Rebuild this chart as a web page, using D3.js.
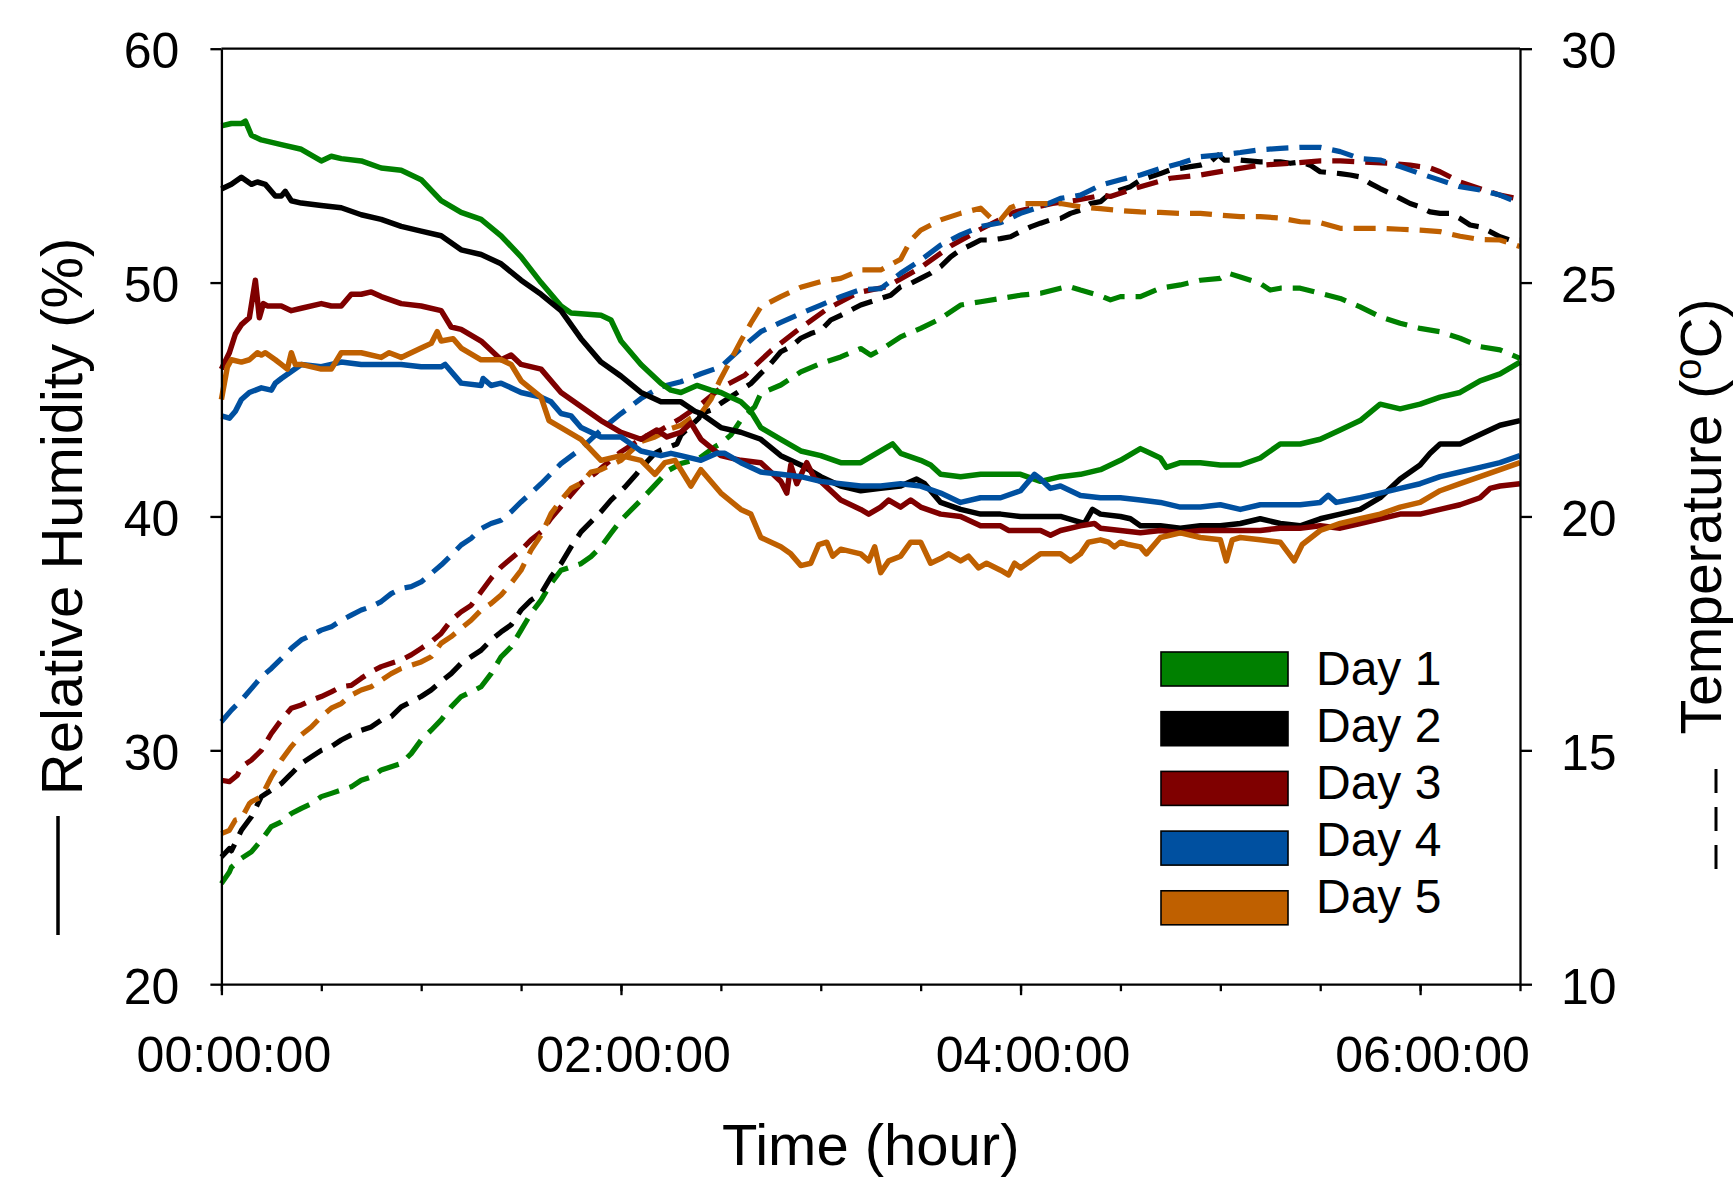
<!DOCTYPE html>
<html>
<head>
<meta charset="utf-8">
<script src="https://cdn.jsdelivr.net/npm/d3@7"></script>
<style>
  html, body { margin: 0; padding: 0; background: #fff; }
  svg { display: block; }
  text { font-family: "Liberation Sans", Arial, sans-serif; fill: #000; }
</style>
</head>
<body>
<script>
// ---------------- DATA ----------------
const days = ["Day 1", "Day 2", "Day 3", "Day 4", "Day 5"];
const dayColors = ["#008000", "#000000", "#7f0000", "#0050a0", "#bf6000"];
const xTickValues = [0, 2, 4, 6];
const xTickLabels = ["00:00:00", "02:00:00", "04:00:00", "06:00:00"];
const rhTicks = [20, 30, 40, 50, 60];
const tTicks = [10, 15, 20, 25, 30];

// Relative humidity (%) : [hour, value]
const rhDay1 = [[0,56.7],[0.05,56.8],[0.1,56.8],[0.12,56.9],[0.15,56.3],[0.2,56.1],[0.3,55.9],[0.4,55.7],[0.5,55.2],[0.55,55.4],[0.6,55.3],[0.7,55.2],[0.8,54.9],[0.9,54.8],[1.0,54.4],[1.1,53.5],[1.2,53.0],[1.3,52.7],[1.4,52.0],[1.5,51.1],[1.6,50.0],[1.7,49.0],[1.75,48.7],[1.9,48.6],[1.95,48.4],[2.0,47.5],[2.1,46.5],[2.2,45.7],[2.25,45.4],[2.3,45.3],[2.38,45.6],[2.45,45.4],[2.5,45.3],[2.55,45.1],[2.6,44.9],[2.65,44.5],[2.7,43.8],[2.8,43.3],[2.9,42.8],[3.0,42.6],[3.1,42.3],[3.2,42.3],[3.3,42.8],[3.36,43.1],[3.4,42.7],[3.5,42.4],[3.55,42.2],[3.6,41.8],[3.7,41.7],[3.8,41.8],[3.9,41.8],[4.0,41.8],[4.1,41.5],[4.2,41.7],[4.3,41.8],[4.4,42.0],[4.5,42.4],[4.6,42.9],[4.65,42.7],[4.7,42.5],[4.73,42.1],[4.8,42.3],[4.9,42.3],[5.0,42.2],[5.1,42.2],[5.2,42.5],[5.3,43.1],[5.4,43.1],[5.5,43.3],[5.6,43.7],[5.7,44.1],[5.8,44.8],[5.9,44.6],[6.0,44.8],[6.1,45.1],[6.2,45.3],[6.3,45.8],[6.4,46.1],[6.5,46.6]];
const rhDay2 = [[0,54.0],[0.05,54.2],[0.1,54.5],[0.15,54.2],[0.18,54.3],[0.22,54.2],[0.27,53.7],[0.3,53.7],[0.32,53.9],[0.35,53.5],[0.4,53.4],[0.5,53.3],[0.6,53.2],[0.7,52.9],[0.8,52.7],[0.9,52.4],[1.0,52.2],[1.1,52.0],[1.2,51.4],[1.3,51.2],[1.4,50.8],[1.5,50.1],[1.6,49.5],[1.7,48.8],[1.8,47.6],[1.9,46.6],[2.0,46.0],[2.1,45.3],[2.2,44.9],[2.3,44.9],[2.37,44.5],[2.4,44.4],[2.5,43.8],[2.6,43.6],[2.7,43.3],[2.8,42.6],[2.9,42.2],[3.0,41.7],[3.1,41.3],[3.2,41.1],[3.3,41.2],[3.4,41.3],[3.48,41.6],[3.52,41.4],[3.6,40.6],[3.7,40.3],[3.8,40.1],[3.9,40.1],[4.0,40.0],[4.1,40.0],[4.2,40.0],[4.28,39.8],[4.32,39.7],[4.36,40.3],[4.4,40.1],[4.5,40.0],[4.55,39.9],[4.6,39.6],[4.7,39.6],[4.8,39.5],[4.9,39.6],[5.0,39.6],[5.1,39.7],[5.2,39.9],[5.3,39.7],[5.4,39.6],[5.5,39.9],[5.6,40.1],[5.7,40.3],[5.8,40.8],[5.9,41.6],[6.0,42.2],[6.05,42.7],[6.1,43.1],[6.2,43.1],[6.3,43.5],[6.4,43.9],[6.5,44.1]];
const rhDay3 = [[0,46.3],[0.04,47.0],[0.07,47.8],[0.1,48.2],[0.14,48.5],[0.17,50.1],[0.19,48.5],[0.21,49.1],[0.23,49.0],[0.3,49.0],[0.35,48.8],[0.4,48.9],[0.5,49.1],[0.55,49.0],[0.6,49.0],[0.65,49.5],[0.7,49.5],[0.75,49.6],[0.8,49.4],[0.9,49.1],[1.0,49.0],[1.1,48.8],[1.15,48.1],[1.2,48.0],[1.3,47.5],[1.4,46.7],[1.45,46.9],[1.5,46.5],[1.6,46.3],[1.7,45.3],[1.8,44.7],[1.9,44.1],[2.0,43.6],[2.1,43.3],[2.18,43.7],[2.23,43.4],[2.3,43.6],[2.35,44.0],[2.4,43.3],[2.5,42.6],[2.6,42.4],[2.7,42.3],[2.8,41.5],[2.83,41.0],[2.85,42.2],[2.88,41.4],[2.93,42.3],[2.97,41.6],[3.0,41.5],[3.1,40.7],[3.2,40.3],[3.24,40.1],[3.3,40.4],[3.34,40.7],[3.4,40.4],[3.45,40.7],[3.5,40.4],[3.6,40.1],[3.7,40.0],[3.8,39.6],[3.9,39.6],[3.94,39.4],[4.0,39.4],[4.1,39.4],[4.15,39.2],[4.2,39.4],[4.3,39.6],[4.37,39.7],[4.4,39.5],[4.5,39.4],[4.6,39.3],[4.7,39.4],[4.8,39.3],[4.9,39.4],[5.0,39.4],[5.1,39.4],[5.2,39.4],[5.3,39.5],[5.4,39.5],[5.5,39.6],[5.6,39.5],[5.7,39.7],[5.8,39.9],[5.9,40.1],[6.0,40.1],[6.1,40.3],[6.2,40.5],[6.3,40.8],[6.35,41.2],[6.4,41.3],[6.5,41.4]];
const rhDay4 = [[0,44.3],[0.04,44.2],[0.07,44.5],[0.1,45.0],[0.14,45.3],[0.2,45.5],[0.25,45.4],[0.27,45.7],[0.3,45.9],[0.35,46.2],[0.4,46.5],[0.5,46.4],[0.6,46.6],[0.7,46.5],[0.8,46.5],[0.9,46.5],[1.0,46.4],[1.1,46.4],[1.12,46.5],[1.2,45.7],[1.3,45.6],[1.31,45.9],[1.35,45.6],[1.4,45.7],[1.5,45.3],[1.6,45.1],[1.65,44.9],[1.7,44.4],[1.75,44.3],[1.8,43.8],[1.9,43.4],[2.0,43.4],[2.1,42.8],[2.2,42.6],[2.25,42.7],[2.3,42.6],[2.4,42.4],[2.48,42.7],[2.52,42.7],[2.6,42.3],[2.7,41.9],[2.8,41.8],[2.9,41.7],[3.0,41.5],[3.1,41.4],[3.2,41.3],[3.3,41.3],[3.4,41.4],[3.5,41.3],[3.6,41.0],[3.7,40.6],[3.8,40.8],[3.9,40.8],[4.0,41.1],[4.07,41.8],[4.1,41.6],[4.15,41.2],[4.2,41.3],[4.3,40.9],[4.4,40.8],[4.5,40.8],[4.6,40.7],[4.7,40.6],[4.8,40.4],[4.9,40.4],[5.0,40.5],[5.1,40.3],[5.2,40.5],[5.3,40.5],[5.4,40.5],[5.5,40.6],[5.54,40.9],[5.58,40.6],[5.7,40.8],[5.8,41.0],[5.9,41.2],[6.0,41.4],[6.1,41.7],[6.2,41.9],[6.3,42.1],[6.4,42.3],[6.5,42.6]];
const rhDay5 = [[0,45.0],[0.03,46.4],[0.05,46.7],[0.1,46.6],[0.14,46.7],[0.18,47.0],[0.2,46.9],[0.22,47.0],[0.27,46.7],[0.3,46.5],[0.33,46.3],[0.35,47.0],[0.37,46.5],[0.4,46.5],[0.5,46.3],[0.55,46.3],[0.6,47.0],[0.7,47.0],[0.8,46.8],[0.84,47.0],[0.9,46.8],[1.0,47.2],[1.05,47.4],[1.08,47.9],[1.1,47.5],[1.16,47.6],[1.2,47.2],[1.3,46.7],[1.4,46.7],[1.45,46.5],[1.5,45.8],[1.6,45.1],[1.64,44.1],[1.7,43.8],[1.8,43.3],[1.9,42.4],[2.0,42.6],[2.1,42.4],[2.17,41.8],[2.22,42.3],[2.27,42.4],[2.3,42.0],[2.35,41.3],[2.4,42.0],[2.5,41.0],[2.6,40.3],[2.65,40.1],[2.7,39.1],[2.8,38.7],[2.85,38.4],[2.9,37.9],[2.95,38.0],[2.99,38.8],[3.03,38.9],[3.06,38.3],[3.1,38.6],[3.2,38.4],[3.24,38.1],[3.27,38.7],[3.3,37.6],[3.34,38.1],[3.4,38.3],[3.45,38.9],[3.5,38.9],[3.55,38.0],[3.6,38.2],[3.64,38.4],[3.7,38.1],[3.74,38.3],[3.79,37.8],[3.83,38.0],[3.9,37.7],[3.94,37.5],[3.97,38.0],[4.0,37.8],[4.1,38.4],[4.2,38.4],[4.25,38.1],[4.3,38.4],[4.34,38.9],[4.4,39.0],[4.44,38.9],[4.47,38.7],[4.5,38.9],[4.54,38.8],[4.6,38.7],[4.63,38.4],[4.7,39.1],[4.8,39.3],[4.9,39.1],[5.0,39.0],[5.03,38.1],[5.06,39.0],[5.1,39.1],[5.2,39.0],[5.3,38.9],[5.37,38.1],[5.41,38.8],[5.5,39.4],[5.6,39.7],[5.7,39.9],[5.8,40.1],[5.9,40.4],[6.0,40.6],[6.1,41.1],[6.2,41.4],[6.3,41.7],[6.4,42.0],[6.5,42.3]];

// Temperature (°C) : [hour, value]
const tDay1 = [[0,12.15],[0.04,12.4],[0.05,12.5],[0.1,12.69],[0.15,12.83],[0.2,13.08],[0.25,13.37],[0.3,13.47],[0.35,13.65],[0.4,13.76],[0.45,13.86],[0.5,14.01],[0.55,14.08],[0.6,14.15],[0.65,14.22],[0.7,14.36],[0.75,14.43],[0.8,14.58],[0.85,14.65],[0.9,14.72],[0.95,14.93],[1.0,15.22],[1.05,15.43],[1.1,15.65],[1.15,15.93],[1.2,16.15],[1.25,16.25],[1.3,16.36],[1.35,16.64],[1.4,17.0],[1.45,17.21],[1.5,17.57],[1.55,17.93],[1.6,18.21],[1.65,18.57],[1.7,18.85],[1.75,18.92],[1.8,18.99],[1.85,19.14],[1.9,19.35],[1.95,19.64],[2.0,19.92],[2.1,20.35],[2.17,20.67],[2.24,20.99],[2.3,21.13],[2.39,21.24],[2.47,21.49],[2.5,21.56],[2.55,21.74],[2.6,22.06],[2.67,22.35],[2.7,22.63],[2.8,22.81],[2.9,23.09],[3.0,23.27],[3.1,23.41],[3.2,23.59],[3.25,23.45],[3.3,23.56],[3.4,23.84],[3.5,24.02],[3.6,24.23],[3.7,24.52],[3.8,24.59],[3.9,24.66],[4.0,24.73],[4.1,24.77],[4.2,24.88],[4.24,24.92],[4.3,24.84],[4.4,24.72],[4.45,24.63],[4.5,24.70],[4.6,24.70],[4.7,24.88],[4.8,24.95],[4.9,25.05],[5.0,25.09],[5.04,25.2],[5.1,25.12],[5.2,24.98],[5.25,24.84],[5.3,24.88],[5.4,24.88],[5.5,24.77],[5.6,24.66],[5.7,24.48],[5.8,24.27],[5.9,24.13],[6.0,24.02],[6.1,23.95],[6.2,23.81],[6.3,23.63],[6.4,23.56],[6.5,23.38]];
const tDay2 = [[0,12.72],[0.04,12.9],[0.05,12.85],[0.1,13.29],[0.15,13.58],[0.2,14.01],[0.25,14.15],[0.3,14.29],[0.35,14.5],[0.4,14.72],[0.45,14.86],[0.5,15.0],[0.55,15.08],[0.6,15.22],[0.65,15.33],[0.7,15.43],[0.75,15.5],[0.8,15.65],[0.85,15.72],[0.9,15.93],[0.95,16.04],[1.0,16.15],[1.05,16.29],[1.1,16.47],[1.15,16.64],[1.2,16.86],[1.25,17.0],[1.3,17.14],[1.35,17.36],[1.4,17.53],[1.45,17.68],[1.5,18.0],[1.55,18.21],[1.6,18.35],[1.65,18.71],[1.7,18.99],[1.75,19.35],[1.8,19.67],[1.9,20.1],[1.95,20.35],[2.02,20.63],[2.08,20.92],[2.1,21.03],[2.17,21.35],[2.2,21.42],[2.28,21.55],[2.3,21.74],[2.39,22.1],[2.4,22.2],[2.45,22.27],[2.5,22.42],[2.55,22.56],[2.6,22.7],[2.65,22.84],[2.7,23.06],[2.75,23.27],[2.8,23.52],[2.85,23.63],[2.9,23.81],[2.95,23.91],[3.0,23.98],[3.05,24.2],[3.1,24.3],[3.15,24.41],[3.2,24.52],[3.25,24.59],[3.3,24.66],[3.35,24.73],[3.4,24.91],[3.45,24.98],[3.5,25.09],[3.55,25.2],[3.6,25.34],[3.65,25.55],[3.7,25.7],[3.75,25.8],[3.8,25.91],[3.85,25.91],[3.9,25.94],[3.95,25.98],[4.0,26.09],[4.05,26.19],[4.1,26.27],[4.15,26.34],[4.2,26.37],[4.25,26.48],[4.3,26.55],[4.35,26.69],[4.4,26.73],[4.45,26.91],[4.5,26.98],[4.55,27.05],[4.6,27.19],[4.65,27.26],[4.7,27.33],[4.75,27.41],[4.8,27.44],[4.85,27.48],[4.9,27.51],[4.95,27.58],[4.99,27.73],[5.02,27.62],[5.1,27.62],[5.2,27.58],[5.3,27.58],[5.35,27.55],[5.4,27.58],[5.45,27.51],[5.5,27.37],[5.6,27.33],[5.65,27.3],[5.7,27.26],[5.75,27.12],[5.8,27.01],[5.85,26.91],[5.9,26.8],[5.95,26.69],[6.0,26.62],[6.05,26.51],[6.1,26.48],[6.15,26.48],[6.2,26.37],[6.25,26.23],[6.3,26.19],[6.35,26.09],[6.4,25.98],[6.45,25.91],[6.5,25.91]];
const tDay3 = [[0,14.36],[0.04,14.33],[0.08,14.47],[0.1,14.65],[0.15,14.79],[0.2,15.0],[0.25,15.36],[0.3,15.65],[0.35,15.9],[0.4,15.97],[0.45,16.07],[0.5,16.15],[0.55,16.25],[0.6,16.36],[0.65,16.39],[0.7,16.54],[0.75,16.68],[0.8,16.79],[0.85,16.86],[0.9,16.93],[0.95,17.04],[1.0,17.18],[1.05,17.32],[1.1,17.5],[1.15,17.78],[1.2,17.96],[1.25,18.1],[1.3,18.39],[1.35,18.68],[1.4,18.92],[1.45,19.1],[1.5,19.28],[1.55,19.5],[1.6,19.67],[1.65,19.96],[1.7,20.21],[1.75,20.46],[1.8,20.71],[1.87,20.92],[1.9,21.03],[1.97,21.28],[2.0,21.38],[2.08,21.6],[2.1,21.67],[2.2,21.85],[2.3,22.1],[2.4,22.4],[2.5,22.75],[2.62,23.02],[2.75,23.54],[2.88,23.97],[3.03,24.43],[3.19,24.79],[3.33,24.91],[3.5,25.32],[3.65,25.78],[3.8,26.14],[3.97,26.51],[4.16,26.69],[4.28,26.76],[4.41,26.87],[4.45,26.84],[4.6,27.05],[4.75,27.23],[4.9,27.3],[5.05,27.41],[5.2,27.51],[5.35,27.55],[5.5,27.6],[5.6,27.6],[5.7,27.58],[5.85,27.55],[5.95,27.51],[6.05,27.45],[6.1,27.37],[6.2,27.15],[6.27,27.05],[6.4,26.87],[6.5,26.78]];
const tDay4 = [[0,15.61],[0.05,15.86],[0.1,16.07],[0.15,16.32],[0.2,16.57],[0.25,16.75],[0.3,16.96],[0.35,17.18],[0.4,17.36],[0.45,17.46],[0.5,17.57],[0.55,17.64],[0.6,17.78],[0.65,17.89],[0.7,18.0],[0.75,18.07],[0.8,18.18],[0.85,18.35],[0.9,18.46],[0.95,18.5],[1.0,18.6],[1.05,18.78],[1.1,18.96],[1.15,19.17],[1.2,19.39],[1.25,19.53],[1.3,19.74],[1.35,19.85],[1.4,19.92],[1.45,20.1],[1.5,20.31],[1.55,20.5],[1.6,20.7],[1.7,21.13],[1.8,21.45],[1.9,21.85],[2.0,22.2],[2.1,22.52],[2.2,22.77],[2.3,22.88],[2.4,23.05],[2.5,23.2],[2.6,23.59],[2.7,23.95],[2.8,24.15],[2.9,24.34],[3.0,24.52],[3.1,24.7],[3.2,24.85],[3.3,24.87],[3.4,25.2],[3.5,25.48],[3.6,25.8],[3.7,26.02],[3.8,26.2],[3.9,26.28],[4.0,26.48],[4.1,26.62],[4.2,26.8],[4.3,26.87],[4.4,27.08],[4.5,27.2],[4.6,27.3],[4.7,27.44],[4.8,27.55],[4.9,27.69],[5.0,27.73],[5.1,27.78],[5.2,27.84],[5.3,27.87],[5.4,27.89],[5.5,27.89],[5.6,27.8],[5.7,27.65],[5.8,27.62],[5.9,27.48],[6.0,27.33],[6.1,27.19],[6.2,27.05],[6.3,26.98],[6.4,26.87],[6.5,26.69]];
const tDay5 = [[0,13.22],[0.04,13.29],[0.07,13.51],[0.1,13.54],[0.14,13.86],[0.15,13.9],[0.2,14.01],[0.25,14.43],[0.3,14.79],[0.35,15.08],[0.4,15.33],[0.45,15.5],[0.5,15.72],[0.55,15.9],[0.6,16.0],[0.65,16.18],[0.7,16.29],[0.75,16.36],[0.8,16.5],[0.85,16.64],[0.9,16.75],[0.95,16.82],[1.0,16.89],[1.05,17.0],[1.1,17.29],[1.15,17.43],[1.2,17.61],[1.25,17.78],[1.3,18.0],[1.35,18.14],[1.4,18.32],[1.45,18.57],[1.5,18.85],[1.55,19.28],[1.6,19.6],[1.65,20.06],[1.7,20.35],[1.75,20.6],[1.8,20.71],[1.85,20.95],[1.9,21.0],[2.0,21.2],[2.1,21.6],[2.17,21.7],[2.25,21.88],[2.3,21.95],[2.35,22.1],[2.4,22.2],[2.45,22.5],[2.5,22.95],[2.55,23.35],[2.6,23.75],[2.65,24.13],[2.7,24.48],[2.8,24.7],[2.9,24.9],[3.0,25.02],[3.1,25.09],[3.2,25.27],[3.3,25.27],[3.4,25.5],[3.45,25.9],[3.5,26.12],[3.6,26.34],[3.7,26.48],[3.8,26.59],[3.87,26.3],[3.9,26.34],[3.95,26.6],[4.0,26.69],[4.1,26.69],[4.2,26.69],[4.3,26.62],[4.4,26.58],[4.5,26.54],[4.6,26.51],[4.7,26.5],[4.8,26.48],[4.9,26.48],[5.0,26.44],[5.1,26.41],[5.2,26.41],[5.3,26.38],[5.4,26.3],[5.5,26.28],[5.6,26.16],[5.7,26.16],[5.8,26.16],[5.9,26.14],[6.0,26.12],[6.1,26.09],[6.2,25.99],[6.3,25.92],[6.4,25.91],[6.5,25.77]];

const rhSeries = [rhDay1, rhDay2, rhDay3, rhDay4, rhDay5];
const tSeries = [tDay1, tDay2, tDay3, tDay4, tDay5];

// ---------------- LAYOUT ----------------
const W = 1736, H = 1179;
const L = 221.4, R = 1520, T = 48.7, B = 984.2;
const FONT = '"Liberation Sans", Arial, sans-serif';

const svg = d3.select("body").append("svg").attr("width", W).attr("height", H);
svg.append("rect").attr("width", W).attr("height", H).attr("fill", "#fff");

const x = d3.scaleLinear().domain([0, 6.5]).range([L, R]);
const yRH = d3.scaleLinear().domain([20, 60]).range([B, T]);
const yT = d3.scaleLinear().domain([10, 30]).range([B, T]);

// lines
const plot = svg.append("g");
const rhLine = d3.line().x(d => x(d[0])).y(d => yRH(d[1]));
const tLine = d3.line().x(d => x(d[0])).y(d => yT(d[1]));

tSeries.forEach((s, i) => {
  plot.append("path").datum(s).attr("d", tLine)
    .attr("fill", "none").attr("stroke", dayColors[i])
    .attr("stroke-width", 5.2).attr("stroke-dasharray", "22,11")
    .attr("stroke-linejoin", "round");
});
rhSeries.forEach((s, i) => {
  plot.append("path").datum(s).attr("d", rhLine)
    .attr("fill", "none").attr("stroke", dayColors[i])
    .attr("stroke-width", 5.5).attr("stroke-linejoin", "round");
});

// axes
function styleAxis(g, fs) {
  g.selectAll("path, line").attr("stroke", "#000").attr("stroke-width", 2.3);
  g.selectAll("text").attr("font-family", FONT).attr("font-size", fs).attr("fill", "#000");
}

const gLeft = svg.append("g").attr("transform", `translate(${L},0)`)
  .call(d3.axisLeft(yRH).tickValues(rhTicks).tickSize(11).tickSizeOuter(0).tickPadding(31));
styleAxis(gLeft, 50);
gLeft.selectAll("text").attr("dy", "0.38em");

const gRight = svg.append("g").attr("transform", `translate(${R},0)`)
  .call(d3.axisRight(yT).tickValues(tTicks).tickSize(12).tickSizeOuter(0).tickPadding(29));
styleAxis(gRight, 50);
gRight.selectAll("text").attr("dy", "0.38em");

const gBottomMinor = svg.append("g").attr("transform", `translate(0,${B})`)
  .call(d3.axisBottom(x).tickValues(d3.range(0, 6.51, 0.5)).tickSize(7).tickSizeOuter(0).tickFormat(""));
styleAxis(gBottomMinor, 50);

const gBottom = svg.append("g").attr("transform", `translate(0,${B})`)
  .call(d3.axisBottom(x).tickValues(xTickValues).tickSize(11).tickSizeOuter(0).tickPadding(41)
    .tickFormat((d, i) => xTickLabels[i]));
styleAxis(gBottom, 50);
gBottom.select(".domain").remove();
gBottom.selectAll("text").attr("dx", 12);

// top border
svg.append("line").attr("x1", L).attr("x2", R).attr("y1", T).attr("y2", T)
  .attr("stroke", "#000").attr("stroke-width", 2.3);

// axis titles
svg.append("text").attr("x", (L + R) / 2).attr("y", 1165)
  .attr("text-anchor", "middle").attr("font-size", 58).attr("font-family", FONT)
  .text("Time (hour)");

const midY = (T + B) / 2;
svg.append("text")
  .attr("transform", `translate(82,${midY}) rotate(-90)`)
  .attr("text-anchor", "middle").attr("font-size", 58).attr("font-family", FONT)
  .text("Relative Humidity (%)");
svg.append("line").attr("x1", 58).attr("x2", 58).attr("y1", 816).attr("y2", 935)
  .attr("stroke", "#000").attr("stroke-width", 3.5);

const rt = svg.append("text")
  .attr("transform", `translate(1721,${midY}) rotate(-90)`)
  .attr("text-anchor", "middle").attr("font-size", 57).attr("font-family", FONT);
rt.append("tspan").text("Temperature (");
rt.append("tspan").attr("font-size", 38).attr("dy", -20).text("o");
rt.append("tspan").attr("dy", 20).text("C)");
svg.append("line").attr("x1", 1716).attr("x2", 1716).attr("y1", 769).attr("y2", 869)
  .attr("stroke", "#000").attr("stroke-width", 3).attr("stroke-dasharray", "24,14");

// legend
const legend = svg.append("g");
days.forEach((d, i) => {
  legend.append("rect")
    .attr("x", 1161).attr("y", 652 + i * 59.7).attr("width", 127).attr("height", 34)
    .attr("fill", dayColors[i]).attr("stroke", "#000").attr("stroke-width", 1.6);
  legend.append("text")
    .attr("x", 1316).attr("y", 685 + i * 57)
    .attr("font-size", 48).attr("font-family", FONT).text(d);
});
</script>
</body>
</html>
